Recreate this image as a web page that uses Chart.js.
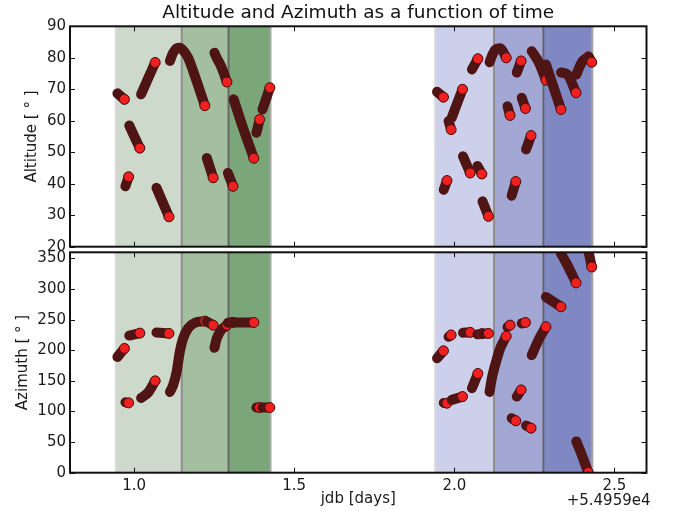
<!DOCTYPE html>
<html lang="en">
<head>
    <meta charset="UTF-8">
    <title>Altitude and Azimuth as a function of time</title>
    <script src="https://cdn.jsdelivr.net/npm/chart.js"></script>
    <style>
        body { margin: 0; background: #fff; }
        .wrap { position: relative; width: 673px; height: 511px; }
        .wrap canvas { position: absolute; left: 0; top: 0; }
    </style>
</head>
<body>
    <div class="wrap">
        <canvas id="altChart" width="673" height="511"></canvas>
        <canvas id="azChart" width="673" height="511"></canvas>
    </div>
    <script>
        // x values are jdb - 54959 (days)
        const xTicks = [1.0, 1.5, 2.0, 2.5];
        const altTicks = [20, 30, 40, 50, 60, 70, 80, 90];
        const azTicks = [0, 50, 100, 150, 200, 250, 300, 350];

        // shaded night bands (edges in days)
        const greenEdges = [0.943, 1.149, 1.295, 1.426];
        const blueEdges = [1.940, 2.124, 2.278, 2.431];

        // one entry per observed track: times, altitude, azimuth
        const trackTimes = [
            [0.948, 0.970],
            [0.973, 0.983],
            [0.985, 1.018],
            [1.022, 1.044, 1.066],
            [1.070, 1.109],
            [1.112, 1.122, 1.133, 1.143, 1.153, 1.169, 1.190, 1.221],
            [1.227, 1.247],
            [1.251, 1.258, 1.272, 1.290],
            [1.293, 1.309],
            [1.311, 1.340, 1.374],
            [1.382, 1.392],
            [1.401, 1.424],
            [1.946, 1.966],
            [1.967, 1.977],
            [1.982, 1.990],
            [1.992, 2.0255],
            [2.027, 2.0495],
            [2.055, 2.0735],
            [2.072, 2.086],
            [2.088, 2.1065],
            [2.110, 2.117, 2.1275, 2.143, 2.153, 2.162],
            [2.166, 2.174],
            [2.179, 2.192],
            [2.195, 2.2085],
            [2.2105, 2.222],
            [2.224, 2.2395],
            [2.2417, 2.264, 2.286],
            [2.286, 2.333],
            [2.333, 2.353, 2.380],
            [2.381, 2.398, 2.418],
            [2.420, 2.429]
        ];
        const trackAlt = [
            [68.7, 66.8],
            [39.2, 42.2],
            [58.5, 51.3],
            [68.4, 73.5, 78.5],
            [38.7, 29.5],
            [79.0, 81.6, 83.0, 83.2, 82.4, 80.0, 74.2, 64.8],
            [48.2, 41.9],
            [81.6, 80.0, 77.2, 72.3],
            [43.4, 39.2],
            [66.8, 57.8, 48.1],
            [56.2, 60.4],
            [63.6, 70.5],
            [69.2, 67.5],
            [38.1, 41.0],
            [59.9, 57.2],
            [61.0, 70.0],
            [48.7, 43.4],
            [76.3, 79.7],
            [45.6, 43.1],
            [34.4, 29.65],
            [78.6, 80.5, 82.5, 83.0, 81.8, 80.0],
            [64.6, 61.7],
            [36.2, 40.7],
            [75.3, 79.0],
            [67.3, 63.9],
            [50.9, 55.3],
            [82.1, 78.5, 72.9],
            [77.9, 63.6],
            [75.3, 74.7, 68.9],
            [74.7, 78.6, 80.3],
            [80.2, 78.6]
        ];
        const trackAz = [
            [189, 203],
            [115, 114],
            [224, 228],
            [122, 131, 150],
            [229, 227.5],
            [132, 143, 165, 198, 219, 236, 245, 247.6],
            [247, 241],
            [204, 219, 233, 241],
            [245, 245.5],
            [245.5, 245.5, 245.4],
            [106.4, 106.4],
            [106.4, 106.4],
            [187, 199],
            [114, 113.5],
            [222, 225],
            [119, 124.3],
            [228.5, 229.2],
            [138, 162],
            [226, 227],
            [227.5, 227.5],
            [132, 154, 176, 203, 214, 223],
            [238, 241],
            [89, 84.7],
            [124.3, 135.2],
            [243.8, 245.4],
            [77, 72.8],
            [192, 218, 238.3],
            [287, 271],
            [358, 339, 310],
            [51, 29, 0.5],
            [359, 336]
        ];

        const greenFills = ['#cdd9cb', '#a4bf9f', '#7ba67a'];
        const blueFills = ['#cdd0ea', '#a3a7d4', '#8088c4'];
        const edgeColors = ['#dadada', '#8e8e8e', '#666666', '#a6a6a6'];
        const font = 'DejaVu Sans';

        function trackDatasets(values) {
            return trackTimes.map((times, i) => ({
                data: times.map((t, j) => ({ x: t, y: values[i][j] })),
                borderColor: '#4f1414',
                borderWidth: 10,
                borderCapStyle: 'round',
                borderJoinStyle: 'round',
                cubicInterpolationMode: 'monotone',
                pointRadius: times.map((t, j) => j === times.length - 1 ? 5 : 0),
                pointBackgroundColor: '#f02020',
                pointBorderColor: '#4a1010',
                pointBorderWidth: 1,
                clip: 0,
                order: -i
            }));
        }

        const bandsPlugin = {
            id: 'bands',
            beforeDatasetsDraw(chart) {
                const { ctx, chartArea: a, scales: { x } } = chart;
                ctx.save();
                ctx.beginPath();
                ctx.rect(a.left, a.top, a.width, a.height);
                ctx.clip();
                [[greenEdges, greenFills], [blueEdges, blueFills]].forEach(([edges, fills]) => {
                    fills.forEach((c, i) => {
                        const x0 = x.getPixelForValue(edges[i]);
                        const x1 = x.getPixelForValue(edges[i + 1]);
                        ctx.fillStyle = c;
                        ctx.fillRect(x0, a.top, x1 - x0, a.height);
                    });
                    edges.forEach((e, i) => {
                        const px = x.getPixelForValue(e);
                        ctx.strokeStyle = edgeColors[i];
                        ctx.lineWidth = 2;
                        ctx.beginPath();
                        ctx.moveTo(px, a.top);
                        ctx.lineTo(px, a.bottom);
                        ctx.stroke();
                    });
                });
                ctx.restore();
            }
        };

        // inward ticks on all four sides plus the box
        const framePlugin = {
            id: 'frame',
            afterDatasetsDraw(chart) {
                const { ctx, chartArea: a, scales: { x, y } } = chart;
                ctx.save();
                ctx.strokeStyle = '#111';
                ctx.lineWidth = 1;
                ctx.beginPath();
                xTicks.forEach(v => {
                    const px = Math.round(x.getPixelForValue(v)) + 0.5;
                    ctx.moveTo(px, a.top); ctx.lineTo(px, a.top + 5);
                    ctx.moveTo(px, a.bottom); ctx.lineTo(px, a.bottom - 5);
                });
                y.ticks.forEach(t => {
                    const py = Math.round(y.getPixelForValue(t.value)) + 0.5;
                    ctx.moveTo(a.left, py); ctx.lineTo(a.left + 5, py);
                    ctx.moveTo(a.right, py); ctx.lineTo(a.right - 5, py);
                });
                ctx.stroke();
                ctx.lineWidth = 2;
                ctx.strokeRect(a.left, a.top, a.width, a.height);
                ctx.restore();
            }
        };

        const offsetPlugin = {
            id: 'offsetText',
            afterDraw(chart) {
                const { ctx, chartArea: a } = chart;
                ctx.save();
                ctx.font = '15px "' + font + '"';
                ctx.fillStyle = '#1a1a1a';
                ctx.textAlign = 'right';
                ctx.textBaseline = 'middle';
                ctx.fillText('+5.4959e4', a.right + 4, 501);
                ctx.restore();
            }
        };

        function yAxis(min, max, ticks, label, titleGap) {
            return {
                min: min,
                max: max,
                afterBuildTicks: s => { s.ticks = ticks.map(v => ({ value: v })); },
                afterFit: s => { s.width = 70; },
                grid: { display: false, drawTicks: false },
                border: { display: false },
                ticks: { padding: 4, color: '#1a1a1a', font: { family: font, size: 15 } },
                title: { display: true, text: label, color: '#1a1a1a', padding: { top: titleGap, bottom: 0 }, font: { family: font, size: 15 } }
            };
        }

        function baseOptions(padding) {
            return {
                responsive: false,
                animation: false,
                events: [],
                layout: { padding: padding },
                plugins: { legend: { display: false }, tooltip: { enabled: false } }
            };
        }

        const altOptions = baseOptions({ left: 0, right: 26.5, top: 0, bottom: 264 });
        altOptions.plugins.title = {
            display: true, fullSize: false,
            text: 'Altitude and Azimuth as a function of time',
            color: '#111', padding: { top: 4, bottom: 2 },
            font: { family: font, size: 18.5, weight: 'normal' }
        };
        altOptions.scales = {
            x: {
                type: 'linear', min: 0.8, max: 2.6,
                afterBuildTicks: s => { s.ticks = xTicks.map(v => ({ value: v })); },
                grid: { display: false, drawTicks: false },
                border: { display: false },
                ticks: { display: false }
            },
            y: yAxis(20, 90, altTicks, 'Altitude [ \u00b0 ]', 23)
        };

        const azOptions = baseOptions({ left: 0, right: 26.5, top: 252.3, bottom: 0 });
        azOptions.scales = {
            x: {
                type: 'linear', min: 0.8, max: 2.6,
                afterBuildTicks: s => { s.ticks = xTicks.map(v => ({ value: v })); },
                grid: { display: false, drawTicks: false },
                border: { display: false },
                ticks: { padding: 4, color: '#1a1a1a', font: { family: font, size: 15 }, callback: v => v.toFixed(1) },
                title: { display: true, text: 'jdb [days]', color: '#1a1a1a', padding: { top: -9, bottom: 0 }, font: { family: font, size: 15 } }
            },
            y: yAxis(0, 360, azTicks, 'Azimuth [ \u00b0 ]', 14)
        };

        const altChart = new Chart(document.getElementById('altChart'), {
            type: 'line',
            data: { datasets: trackDatasets(trackAlt) },
            options: altOptions,
            plugins: [bandsPlugin, framePlugin]
        });
        const azChart = new Chart(document.getElementById('azChart'), {
            type: 'line',
            data: { datasets: trackDatasets(trackAz) },
            options: azOptions,
            plugins: [bandsPlugin, framePlugin, offsetPlugin]
        });

        // nudge the padding so the plot boxes land where the original ones sit
        function fitTo(chart, top, bottom) {
            const a = chart.chartArea;
            const p = chart.options.layout.padding;
            p.top += top - a.top;
            p.bottom += a.bottom - bottom;
            chart.update();
        }
        fitTo(altChart, 26.3, 246.7);
        fitTo(azChart, 252.3, 472.7);
    </script>
</body>
</html>
